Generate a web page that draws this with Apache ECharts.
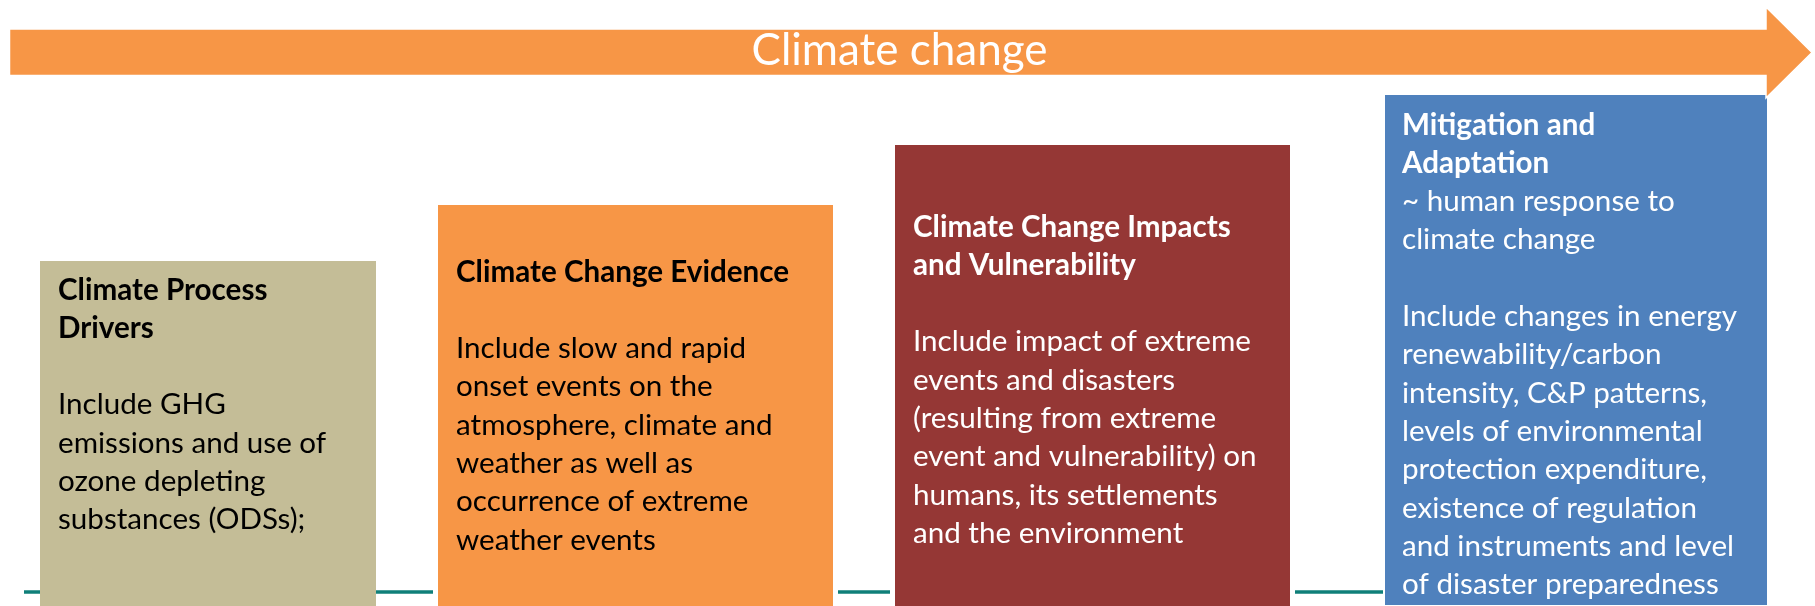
<!DOCTYPE html>
<html>
<head>
<meta charset="utf-8">
<script src="https://cdn.jsdelivr.net/npm/echarts@6/dist/echarts.min.js"></script>
<style>
  html, body { margin: 0; padding: 0; background: #fff; }
  #chart { width: 1815px; height: 606px; }
</style>
</head>
<body>
<div id="chart"></div>
<script>
// diagram space: 1 unit = 1 px of the 1815x606 canvas
const arrowTitle = 'Climate change';
const arrowX = [9.5, 1766, 1812];          // tail, head base, tip
const arrowBodyY = [29, 75.5];
const arrowHeadY = [7, 98];

const stageLeft = [40, 438, 895, 1384];
const stageRight = [376, 833, 1290, 1768];
const stageTop = [261, 205, 145, 94];

const stageHeadings = [
  ['Climate Process', 'Drivers'],
  ['Climate Change Evidence'],
  ['Climate Change Impacts', 'and Vulnerability'],
  ['Mitigation and', 'Adaptation']
];
const stageNotes = [[], [], [], ['~ human response to', 'climate change']];
const stageBodies = [
  ['Include GHG', 'emissions and use of', 'ozone depleting', 'substances (ODSs);'],
  ['Include slow and rapid', 'onset events on the', 'atmosphere, climate and', 'weather as well as', 'occurrence of extreme', 'weather events'],
  ['Include impact of extreme', 'events and disasters', '(resulting from extreme', 'event and vulnerability) on', 'humans, its settlements', 'and the environment'],
  ['Include changes in energy', 'renewability/carbon', 'intensity, C&P patterns,', 'levels of environmental', 'protection expenditure,', 'existence of regulation', 'and instruments and level', 'of disaster preparedness']
];

const baseLineStart = [24, 838, 1295];
const baseLineEnd = [433, 890, 1384];
const baseLineY = 592;

// layout / style
const stageFill = ['#c4bd97', '#f79646', '#953735', '#4f81bd'];
const stageInk = ['#000', '#000', '#fff', '#fff'];
const stageBorder = [0, 0, 0, 2];
const firstLineOffset = [29, 67, 82, 31];
const lineStep = 38.3;
const textPad = 18;
const FONT = 'Lato, "Open Sans", sans-serif';
const bodySize = 29.6;

const chart = echarts.init(document.getElementById('chart'));

function renderStage(params, api) {
  const i = params.dataIndex;
  const tl = api.coord([stageLeft[i], stageTop[i]]);
  const br = api.coord([stageRight[i], 606]);
  const children = [{
    type: 'rect',
    shape: { x: tl[0], y: tl[1], width: br[0] - tl[0], height: br[1] - tl[1] },
    style: { fill: stageFill[i], stroke: stageBorder[i] ? '#fff' : null, lineWidth: stageBorder[i] }
  }];
  const lines = [];
  stageHeadings[i].forEach(t => lines.push({ t: t, bold: true }));
  stageNotes[i].forEach(t => lines.push({ t: t, bold: false }));
  lines.push(null);
  stageBodies[i].forEach(t => lines.push({ t: t, bold: false }));
  lines.forEach((ln, k) => {
    if (!ln) return;
    const p = api.coord([stageLeft[i] + textPad, stageTop[i] + firstLineOffset[i] + k * lineStep]);
    children.push({
      type: 'text',
      style: {
        text: ln.t, x: p[0], y: p[1],
        fill: stageInk[i],
        fontFamily: FONT,
        fontSize: bodySize,
        fontWeight: ln.bold ? 'bold' : 'normal',
        align: 'left', verticalAlign: 'middle'
      }
    });
  });
  return { type: 'group', children: children };
}

function renderArrow(params, api) {
  const pts = [
    [arrowX[0], arrowBodyY[0]], [arrowX[1], arrowBodyY[0]], [arrowX[1], arrowHeadY[0]],
    [arrowX[2], (arrowHeadY[0] + arrowHeadY[1]) / 2],
    [arrowX[1], arrowHeadY[1]], [arrowX[1], arrowBodyY[1]], [arrowX[0], arrowBodyY[1]]
  ].map(p => api.coord(p));
  const c = api.coord([(752 + 1047) / 2, (arrowBodyY[0] + arrowBodyY[1]) / 2]);
  return {
    type: 'group',
    children: [
      { type: 'polygon', shape: { points: pts }, style: { fill: '#f79646', stroke: '#fff', lineWidth: 1.5 } },
      { type: 'text', style: { text: arrowTitle, x: c[0], y: c[1] - 1, fill: '#fff', fontFamily: FONT, fontSize: 44, align: 'center', verticalAlign: 'middle' } }
    ]
  };
}

chart.setOption({
  animation: false,
  grid: { left: 0, right: 0, top: 0, bottom: 0 },
  xAxis: { type: 'value', min: 0, max: 1815, show: false },
  yAxis: { type: 'value', min: 0, max: 606, inverse: true, show: false },
  series: [
    {
      type: 'lines',
      coordinateSystem: 'cartesian2d',
      z: 1,
      lineStyle: { color: '#0f7f79', width: 3.5, opacity: 1 },
      data: baseLineStart.map((s, i) => ({ coords: [[s, baseLineY], [baseLineEnd[i], baseLineY]] }))
    },
    {
      type: 'custom',
      z: 2,
      renderItem: renderStage,
      data: stageLeft.map((l, i) => [l, stageTop[i]])
    },
    {
      type: 'custom',
      z: 3,
      renderItem: renderArrow,
      data: [[arrowX[0], arrowBodyY[0]]]
    }
  ]
});
</script>
</body>
</html>
